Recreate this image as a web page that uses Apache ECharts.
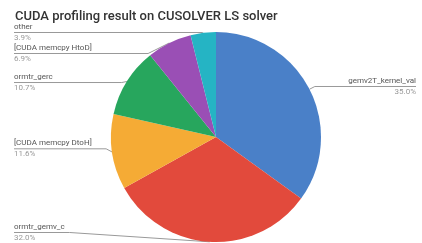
<!DOCTYPE html>
<html>
<head>
<meta charset="utf-8">
<script src="https://cdn.jsdelivr.net/npm/echarts@6/dist/echarts.min.js"></script>
<style>
  html, body { margin: 0; padding: 0; background: #fff; }
  #chart { width: 422px; height: 243px; }
</style>
</head>
<body>
<div id="chart"></div>
<script>
const names = [
  'gemv2T_kernel_val',
  'ormtr_gemv_c',
  '[CUDA memcpy DtoH]',
  'ormtr_gerc',
  '[CUDA memcpy HtoD]',
  'other'
];
const shares = [35.0, 32.0, 11.6, 10.7, 6.9, 3.9];
const colors = ['#4a80c8', '#e24a3c', '#f5ab35', '#27a65d', '#9a4fb5', '#25b4c4'];

const chart = echarts.init(document.getElementById('chart'));

chart.setOption({
  animation: false,
  title: {
    text: 'CUDA profiling result on CUSOLVER LS solver',
    left: 10,
    top: 5,
    textStyle: {
      fontFamily: 'Roboto',
      fontSize: 13,
      fontWeight: 500,
      color: '#333'
    }
  },
  series: [
    {
      type: 'pie',
      left: 8,
      right: 0,
      top: 22,
      bottom: 0,
      center: [208, 115],
      radius: 105,
      startAngle: 90,
      clockwise: true,
      color: colors,
      data: names.map((n, i) => ({ name: n, value: shares[i] })),
      label: {
        position: 'outer',
        alignTo: 'edge',
        edgeDistance: 6,
        overflow: 'none',
        padding: [3, 0],
        formatter: p => '{n|' + p.name + '}\n{p|' + p.value.toFixed(1) + '%}',
        rich: {
          n: { fontFamily: 'Roboto', fontSize: 8, color: '#555', lineHeight: 11 },
          p: { fontFamily: 'Roboto', fontSize: 8, color: '#999', lineHeight: 11 }
        }
      },
      labelLine: {
        length: 6,
        length2: 10,
        lineStyle: { color: '#999', width: 1 }
      },
      labelLayout: function (params) {
        const pts = params.labelLinePoints;
        if (!pts || pts.length < 3) return {};
        const r = params.labelRect;
        const isLeft = pts[2][0] < pts[0][0];
        const end = isLeft ? r.x : r.x + r.width;
        return { labelLinePoints: [pts[0], pts[1], [end, pts[2][1]]] };
      }
    }
  ]
});
</script>
</body>
</html>
